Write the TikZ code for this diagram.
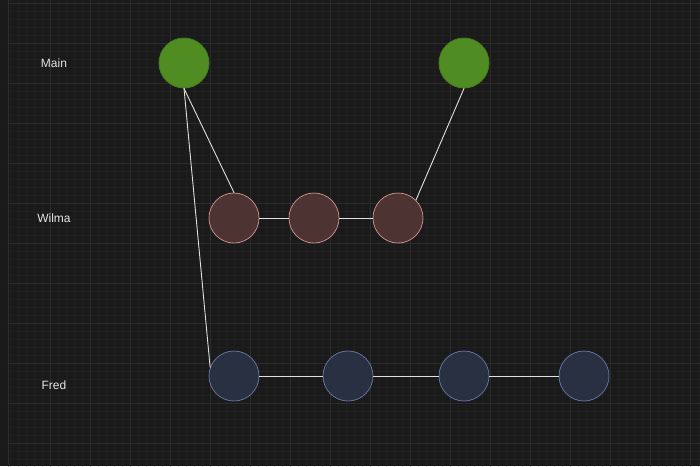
\documentclass[tikz,border=0pt]{standalone}
\usepackage{fontspec}
\setmainfont{Liberation Sans}
\definecolor{bg}{HTML}{1A1A1A}
\definecolor{gridmaj}{HTML}{2C2C2C}
\definecolor{gridmin}{HTML}{1F1F1F}
\definecolor{mainfill}{HTML}{4F8C22}
\definecolor{wilmafill}{HTML}{4E3333}
\definecolor{wilmaline}{HTML}{C48A86}
\definecolor{fredfill}{HTML}{283041}
\definecolor{fredline}{HTML}{62729A}
\definecolor{labelcol}{HTML}{E4E4E4}
\begin{document}
\begin{tikzpicture}[x=1pt, y=-1pt, line join=round, line cap=round]
\tikzset{commit/.style={circle, minimum size=50pt, inner sep=0pt, line width=0.8pt},
  maincommit/.style={commit, fill=mainfill, draw=mainfill!90!black},
  wilmacommit/.style={commit, fill=wilmafill, draw=wilmaline},
  fredcommit/.style={commit, fill=fredfill, draw=fredline},
  branchlabel/.style={text=labelcol, font=\fontsize{12}{14}\selectfont},
  link/.style={draw=white!88!black, line width=0.9pt}}
\fill[bg] (0,0) rectangle (700,466);
\useasboundingbox (0,0) rectangle (700,466);
% grid
\foreach \x in {10,18,...,700} \draw[gridmin, line width=0.6pt] (\x,0)--(\x,466);
\foreach \y in {3,11,...,466} \draw[gridmin, line width=0.6pt] (8,\y)--(700,\y);
\foreach \x in {50,90,...,690} \draw[gridmaj, line width=0.8pt] (\x,0)--(\x,466);
\foreach \y in {3,43,...,466} \draw[gridmaj, line width=0.8pt] (8,\y)--(700,\y);
\draw[gridmaj, line width=1pt] (8,0)--(8,466);
% branch labels
\node[branchlabel] (mainlabel) at (54,63) {Main};
\node[branchlabel] (wilmalabel) at (54,218) {Wilma};
\node[branchlabel] (fredlabel) at (54,385) {Fred};
% commits
\node[maincommit] (main1) at (184,63) {};
\node[maincommit] (main2) at (464,63) {};
\node[wilmacommit] (wilma1) at (234,218) {};
\node[wilmacommit] (wilma2) at (314,218) {};
\node[wilmacommit] (wilma3) at (398,218) {};
\node[fredcommit] (fred1) at (234,376) {};
\node[fredcommit] (fred2) at (348,376) {};
\node[fredcommit] (fred3) at (464,376) {};
\node[fredcommit] (fred4) at (584,376) {};
% links
\draw[link] (main1.south) -- (wilma1.north);
\draw[link] (main1.south) -- (fred1.160);
\draw[link] (main2.south) -- (wilma3.45);
\draw[link] (wilma1) -- (wilma2);
\draw[link] (wilma2) -- (wilma3);
\draw[link] (fred1) -- (fred2);
\draw[link] (fred2) -- (fred3);
\draw[link] (fred3) -- (fred4);
\end{tikzpicture}
\end{document}
